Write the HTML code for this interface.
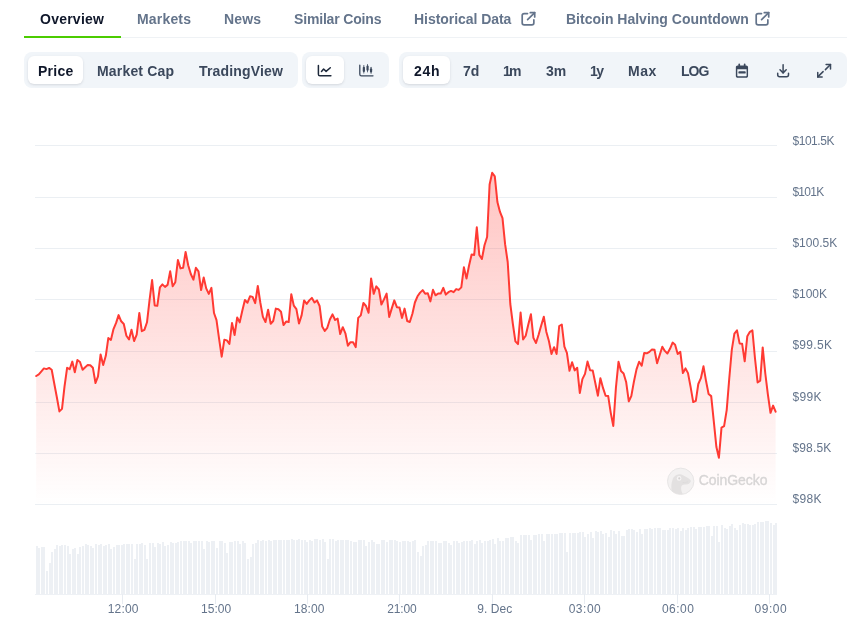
<!DOCTYPE html>
<html lang="en">
<head>
<meta charset="utf-8">
<title>Bitcoin Price Chart</title>
<style>
  html, body { margin: 0; padding: 0; background: #fff; }
  body { width: 847px; height: 632px; position: relative; overflow: hidden;
         font-family: "Liberation Sans", sans-serif; -webkit-font-smoothing: antialiased; }
  .abs { position: absolute; }
  .tab, .btn { will-change: transform; }
  svg text { will-change: transform; }

  /* ---------- nav tabs ---------- */
  .navline { left: 24px; top: 37px; width: 823px; height: 1px; background: #eff2f5; }
  .navgreen { left: 24px; top: 36px; width: 97px; height: 2px; background: #4bcc00; }
  .tab { top: 10px; height: 18px; line-height: 18px; font-size: 14px; font-weight: 700;
         color: #64748b; white-space: nowrap; }
  .tab.on { color: #0f172a; }

  /* ---------- toolbar ---------- */
  .pill { top: 52px; height: 36px; background: #f1f5f9; border-radius: 8px; }
  .sel  { top: 56px; height: 28px; background: #fff; border-radius: 6px;
          box-shadow: 0 1px 3px 0 rgba(15,23,42,0.10), 0 1px 2px -1px rgba(15,23,42,0.10); }
  .btn { top: 62px; height: 18px; line-height: 18px; font-size: 14px; font-weight: 700;
         color: #3b485c; white-space: nowrap; }
  .btn.on { color: #0f172a; }
  svg { display: block; }
  .ico { overflow: visible; }
</style>
</head>
<body>

<!-- ================= NAV ================= -->
<div class="abs navline"></div>
<div class="abs navgreen"></div>
<div class="abs tab on" id="t1" style="left:40px;letter-spacing:0.24px">Overview</div>
<div class="abs tab" id="t2" style="left:137px;letter-spacing:0.18px">Markets</div>
<div class="abs tab" id="t3" style="left:224px;letter-spacing:0.13px">News</div>
<div class="abs tab" id="t4" style="left:294px;letter-spacing:-0.17px">Similar Coins</div>
<div class="abs tab" id="t5" style="left:414px;letter-spacing:-0.05px">Historical Data</div>
<div class="abs tab" id="t6" style="left:566px;letter-spacing:0px">Bitcoin Halving Countdown</div>

<!-- external-link icons -->
<svg class="abs ico" style="left:521px;top:11px" width="16" height="16" viewBox="0 0 16 16" fill="none" stroke="#64748b" stroke-width="1.7" stroke-linecap="round" stroke-linejoin="round">
  <path d="M6.5 2.55H3.2C2.2 2.55 1.2 3.35 1.2 4.35V12.05C1.2 13.05 2.2 13.85 3.2 13.85H10.85C11.85 13.85 12.85 13.05 12.85 12.05V8.9"/>
  <path d="M6.6 8.6L13.7 1.7"/><path d="M9.3 1.7H13.7V5.9"/>
</svg>
<svg class="abs ico" style="left:755px;top:11px" width="16" height="16" viewBox="0 0 16 16" fill="none" stroke="#64748b" stroke-width="1.7" stroke-linecap="round" stroke-linejoin="round">
  <path d="M6.5 2.55H3.2C2.2 2.55 1.2 3.35 1.2 4.35V12.05C1.2 13.05 2.2 13.85 3.2 13.85H10.85C11.85 13.85 12.85 13.05 12.85 12.05V8.9"/>
  <path d="M6.6 8.6L13.7 1.7"/><path d="M9.3 1.7H13.7V5.9"/>
</svg>

<!-- ================= TOOLBAR ================= -->
<div class="abs pill" style="left:24px;width:274px"></div>
<div class="abs sel"  style="left:28px;width:55px"></div>
<div class="abs btn on" id="b1" style="left:38px;letter-spacing:0.25px">Price</div>
<div class="abs btn" id="b2" style="left:97px;letter-spacing:0.18px">Market Cap</div>
<div class="abs btn" id="b3" style="left:199px;letter-spacing:0.17px">TradingView</div>

<div class="abs pill" style="left:302px;width:87px"></div>
<div class="abs sel"  style="left:306px;width:38px"></div>
<!-- line chart icon -->
<svg class="abs ico" style="left:317px;top:63px" width="16" height="16" viewBox="0 0 16 16" fill="none" stroke="#1e293b" stroke-width="1.5" stroke-linecap="round" stroke-linejoin="round">
  <path d="M1.4 2.4V11.2C1.4 12.1 2.1 12.8 3 12.8H13.9"/>
  <path d="M4.5 8.4L6.6 6L9.1 8.4L13.3 4.7"/>
</svg>
<!-- candlestick icon -->
<svg class="abs ico" style="left:357.85px;top:63px" width="16" height="16" viewBox="0 0 16 16" fill="none" stroke="#3b485c" stroke-width="1.3" stroke-linecap="round" stroke-linejoin="round">
  <path d="M1.8 2.2V11.2C1.800 12.100 2.500 12.800 3.400 12.800H15"/>
  <g fill="#3b485c" stroke="none">
    <rect x="4.750" y="3.800" width="2.200" height="5.200" rx="1"/><rect x="5.450" y="2.100" width="0.800" height="8.500" rx="0.400"/>
    <rect x="8.450" y="2.500" width="2.200" height="5.200" rx="1"/><rect x="9.150" y="0.900" width="0.800" height="8.500" rx="0.400"/>
    <rect x="11.950" y="5.300" width="2.200" height="4.300" rx="1"/><rect x="12.650" y="3.800" width="0.800" height="7.200" rx="0.400"/>
  </g>
</svg>

<div class="abs pill" style="left:399px;width:448px"></div>
<div class="abs sel"  style="left:403px;width:47px"></div>
<div class="abs btn on" id="c1" style="left:414px;letter-spacing:0.7px">24h</div>
<div class="abs btn" id="c2" style="left:463px">7d</div>
<div class="abs btn" id="c3" style="left:503px;letter-spacing:-1.7px">1m</div>
<div class="abs btn" id="c4" style="left:546px">3m</div>
<div class="abs btn" id="c5" style="left:590px;letter-spacing:-1.5px">1y</div>
<div class="abs btn" id="c6" style="left:628px;letter-spacing:0.5px">Max</div>
<div class="abs btn" id="c7" style="left:681px;letter-spacing:-1.0px">LOG</div>

<!-- calendar icon -->
<svg class="abs ico" style="left:735px;top:63px" width="14" height="16" viewBox="0 0 14 16" fill="#3b485c">
  <path fill-rule="evenodd" d="M2.65 2.4H11.25C12.25 2.4 13.05 3.2 13.05 4.2V13C13.05 14 12.25 14.8 11.25 14.8H2.65C1.65 14.8 .85 14 .85 13V4.2C.85 3.2 1.65 2.4 2.65 2.4ZM2.3 6.2V12.8C2.300 13.100 2.500 13.300 2.800 13.300H11.100C11.400 13.300 11.600 13.100 11.600 12.800V6.200Z"/>
  <rect x="3.4" y="0.6" width="1.700" height="3.400" rx="0.800"/><rect x="8.8" y="0.6" width="1.700" height="3.400" rx="0.800"/>
  <rect x="3.4" y="8.200" width="7.300" height="2.400" rx="0.900"/>
</svg>
<!-- download icon -->
<svg class="abs ico" style="left:776px;top:63px" width="16" height="16" viewBox="0 0 16 16" fill="none" stroke="#3b485c" stroke-width="1.5" stroke-linecap="round" stroke-linejoin="round">
  <path d="M7.100 1.800V9.800"/><path d="M4 6.800L7.100 9.900L10.200 6.800"/>
  <path d="M1.700 10.200V11.800C1.700 12.900 2.600 13.800 3.700 13.800H10.500C11.600 13.800 12.500 12.900 12.500 11.800V10.200"/>
</svg>
<!-- expand icon -->
<svg class="abs ico" style="left:816px;top:63px" width="16" height="16" viewBox="0 0 16 16" fill="none" stroke="#3b485c" stroke-width="1.5" stroke-linecap="round" stroke-linejoin="round">
  <path d="M9.400 6.650L14.500 1.550"/><path d="M10.100 1.550H14.500V5.950"/>
  <path d="M7.100 8.650L1.750 13.900"/><path d="M1.750 9.500V13.900H6.150"/>
</svg>

<!-- ================= CHART ================= -->
<svg class="abs" style="left:0;top:0" width="847" height="632" viewBox="0 0 847 632">
  <defs>
    <linearGradient id="ag" gradientUnits="userSpaceOnUse" x1="0" y1="172" x2="0" y2="505">
      <stop offset="0" stop-color="#ff3a33" stop-opacity="0.30"/>
      <stop offset="1" stop-color="#ff3a33" stop-opacity="0"/>
    </linearGradient>
  </defs>
  <g stroke="#ebeff3" stroke-width="1" fill="none" shape-rendering="crispEdges"><path d="M35.1 145.5 H777"/><path d="M35.1 197.5 H777"/><path d="M35.1 248.5 H777"/><path d="M35.1 299.5 H777"/><path d="M35.1 351.5 H777"/><path d="M35.1 402.5 H777"/><path d="M35.1 453.5 H777"/><path d="M35.1 504.5 H777"/></g>
  <g fill="#edf0f4" shape-rendering="crispEdges"><rect x="36" y="546" width="2" height="48"/><rect x="38" y="548" width="2" height="46"/><rect x="41" y="547" width="2" height="47"/><rect x="43" y="547" width="2" height="47"/><rect x="46" y="571" width="2" height="23"/><rect x="49" y="563" width="2" height="31"/><rect x="51" y="552" width="2" height="42"/><rect x="54" y="549" width="2" height="45"/><rect x="56" y="545" width="2" height="49"/><rect x="59" y="546" width="2" height="48"/><rect x="61" y="545" width="2" height="49"/><rect x="64" y="545" width="2" height="49"/><rect x="67" y="546" width="2" height="48"/><rect x="69" y="554" width="2" height="40"/><rect x="72" y="549" width="2" height="45"/><rect x="74" y="548" width="2" height="46"/><rect x="77" y="554" width="2" height="40"/><rect x="79" y="547" width="2" height="47"/><rect x="82" y="546" width="2" height="48"/><rect x="85" y="544" width="2" height="50"/><rect x="87" y="545" width="2" height="49"/><rect x="90" y="546" width="2" height="48"/><rect x="92" y="548" width="2" height="46"/><rect x="95" y="544" width="2" height="50"/><rect x="98" y="545" width="2" height="49"/><rect x="100" y="544" width="2" height="50"/><rect x="103" y="546" width="2" height="48"/><rect x="105" y="545" width="2" height="49"/><rect x="108" y="544" width="2" height="50"/><rect x="110" y="549" width="2" height="45"/><rect x="113" y="547" width="2" height="47"/><rect x="116" y="545" width="2" height="49"/><rect x="118" y="545" width="2" height="49"/><rect x="121" y="545" width="2" height="49"/><rect x="123" y="544" width="2" height="50"/><rect x="126" y="544" width="2" height="50"/><rect x="128" y="544" width="2" height="50"/><rect x="131" y="544" width="2" height="50"/><rect x="134" y="559" width="2" height="35"/><rect x="136" y="544" width="2" height="50"/><rect x="139" y="544" width="2" height="50"/><rect x="141" y="543" width="2" height="51"/><rect x="144" y="545" width="2" height="49"/><rect x="146" y="559" width="2" height="35"/><rect x="149" y="543" width="2" height="51"/><rect x="152" y="543" width="2" height="51"/><rect x="154" y="547" width="2" height="47"/><rect x="157" y="543" width="2" height="51"/><rect x="159" y="544" width="2" height="50"/><rect x="162" y="542" width="2" height="52"/><rect x="164" y="546" width="2" height="48"/><rect x="167" y="545" width="2" height="49"/><rect x="170" y="542" width="2" height="52"/><rect x="172" y="543" width="2" height="51"/><rect x="175" y="543" width="2" height="51"/><rect x="177" y="542" width="2" height="52"/><rect x="180" y="541" width="2" height="53"/><rect x="183" y="541" width="2" height="53"/><rect x="185" y="541" width="2" height="53"/><rect x="188" y="541" width="2" height="53"/><rect x="190" y="543" width="2" height="51"/><rect x="193" y="541" width="2" height="53"/><rect x="195" y="541" width="2" height="53"/><rect x="198" y="541" width="2" height="53"/><rect x="201" y="541" width="2" height="53"/><rect x="203" y="549" width="2" height="45"/><rect x="206" y="541" width="2" height="53"/><rect x="208" y="542" width="2" height="52"/><rect x="211" y="541" width="2" height="53"/><rect x="213" y="541" width="2" height="53"/><rect x="216" y="548" width="2" height="46"/><rect x="219" y="541" width="2" height="53"/><rect x="221" y="541" width="2" height="53"/><rect x="224" y="543" width="2" height="51"/><rect x="226" y="553" width="2" height="41"/><rect x="229" y="542" width="2" height="52"/><rect x="231" y="542" width="2" height="52"/><rect x="234" y="541" width="2" height="53"/><rect x="237" y="541" width="2" height="53"/><rect x="239" y="544" width="2" height="50"/><rect x="242" y="541" width="2" height="53"/><rect x="244" y="543" width="2" height="51"/><rect x="247" y="559" width="2" height="35"/><rect x="250" y="557" width="2" height="37"/><rect x="252" y="544" width="2" height="50"/><rect x="255" y="543" width="2" height="51"/><rect x="257" y="540" width="2" height="54"/><rect x="260" y="541" width="2" height="53"/><rect x="262" y="540" width="2" height="54"/><rect x="265" y="541" width="2" height="53"/><rect x="268" y="540" width="2" height="54"/><rect x="270" y="541" width="2" height="53"/><rect x="273" y="540" width="2" height="54"/><rect x="275" y="540" width="2" height="54"/><rect x="278" y="540" width="2" height="54"/><rect x="280" y="540" width="2" height="54"/><rect x="283" y="540" width="2" height="54"/><rect x="286" y="540" width="2" height="54"/><rect x="288" y="540" width="2" height="54"/><rect x="291" y="539" width="2" height="55"/><rect x="293" y="540" width="2" height="54"/><rect x="296" y="540" width="2" height="54"/><rect x="298" y="539" width="2" height="55"/><rect x="301" y="540" width="2" height="54"/><rect x="304" y="540" width="2" height="54"/><rect x="306" y="542" width="2" height="52"/><rect x="309" y="540" width="2" height="54"/><rect x="311" y="541" width="2" height="53"/><rect x="314" y="539" width="2" height="55"/><rect x="316" y="539" width="2" height="55"/><rect x="319" y="540" width="2" height="54"/><rect x="322" y="539" width="2" height="55"/><rect x="324" y="542" width="2" height="52"/><rect x="327" y="559" width="2" height="35"/><rect x="329" y="539" width="2" height="55"/><rect x="332" y="539" width="2" height="55"/><rect x="335" y="541" width="2" height="53"/><rect x="337" y="540" width="2" height="54"/><rect x="340" y="540" width="2" height="54"/><rect x="342" y="540" width="2" height="54"/><rect x="345" y="540" width="2" height="54"/><rect x="347" y="540" width="2" height="54"/><rect x="350" y="541" width="2" height="53"/><rect x="353" y="542" width="2" height="52"/><rect x="355" y="542" width="2" height="52"/><rect x="358" y="540" width="2" height="54"/><rect x="360" y="540" width="2" height="54"/><rect x="363" y="540" width="2" height="54"/><rect x="365" y="546" width="2" height="48"/><rect x="368" y="542" width="2" height="52"/><rect x="371" y="540" width="2" height="54"/><rect x="373" y="542" width="2" height="52"/><rect x="376" y="544" width="2" height="50"/><rect x="378" y="544" width="2" height="50"/><rect x="381" y="540" width="2" height="54"/><rect x="383" y="540" width="2" height="54"/><rect x="386" y="542" width="2" height="52"/><rect x="389" y="540" width="2" height="54"/><rect x="391" y="540" width="2" height="54"/><rect x="394" y="540" width="2" height="54"/><rect x="396" y="541" width="2" height="53"/><rect x="399" y="542" width="2" height="52"/><rect x="402" y="541" width="2" height="53"/><rect x="404" y="541" width="2" height="53"/><rect x="407" y="541" width="2" height="53"/><rect x="409" y="542" width="2" height="52"/><rect x="412" y="541" width="2" height="53"/><rect x="414" y="540" width="2" height="54"/><rect x="417" y="552" width="2" height="42"/><rect x="420" y="556" width="2" height="38"/><rect x="422" y="546" width="2" height="48"/><rect x="425" y="545" width="2" height="49"/><rect x="427" y="541" width="2" height="53"/><rect x="430" y="541" width="2" height="53"/><rect x="432" y="541" width="2" height="53"/><rect x="435" y="541" width="2" height="53"/><rect x="438" y="543" width="2" height="51"/><rect x="440" y="543" width="2" height="51"/><rect x="443" y="541" width="2" height="53"/><rect x="445" y="541" width="2" height="53"/><rect x="448" y="543" width="2" height="51"/><rect x="450" y="545" width="2" height="49"/><rect x="453" y="541" width="2" height="53"/><rect x="456" y="541" width="2" height="53"/><rect x="458" y="543" width="2" height="51"/><rect x="461" y="542" width="2" height="52"/><rect x="463" y="541" width="2" height="53"/><rect x="466" y="541" width="2" height="53"/><rect x="469" y="541" width="2" height="53"/><rect x="471" y="540" width="2" height="54"/><rect x="474" y="544" width="2" height="50"/><rect x="476" y="541" width="2" height="53"/><rect x="479" y="540" width="2" height="54"/><rect x="481" y="543" width="2" height="51"/><rect x="484" y="541" width="2" height="53"/><rect x="487" y="541" width="2" height="53"/><rect x="489" y="540" width="2" height="54"/><rect x="492" y="539" width="2" height="55"/><rect x="494" y="544" width="2" height="50"/><rect x="497" y="538" width="2" height="56"/><rect x="499" y="541" width="2" height="53"/><rect x="502" y="541" width="2" height="53"/><rect x="505" y="538" width="2" height="56"/><rect x="507" y="538" width="2" height="56"/><rect x="510" y="537" width="2" height="57"/><rect x="512" y="537" width="2" height="57"/><rect x="515" y="541" width="2" height="53"/><rect x="517" y="543" width="2" height="51"/><rect x="520" y="535" width="2" height="59"/><rect x="523" y="535" width="2" height="59"/><rect x="525" y="535" width="2" height="59"/><rect x="528" y="535" width="2" height="59"/><rect x="530" y="540" width="2" height="54"/><rect x="533" y="535" width="2" height="59"/><rect x="535" y="535" width="2" height="59"/><rect x="538" y="534" width="2" height="60"/><rect x="541" y="534" width="2" height="60"/><rect x="543" y="541" width="2" height="53"/><rect x="546" y="534" width="2" height="60"/><rect x="548" y="534" width="2" height="60"/><rect x="551" y="534" width="2" height="60"/><rect x="554" y="534" width="2" height="60"/><rect x="556" y="534" width="2" height="60"/><rect x="559" y="533" width="2" height="61"/><rect x="561" y="533" width="2" height="61"/><rect x="564" y="533" width="2" height="61"/><rect x="566" y="552" width="2" height="42"/><rect x="569" y="533" width="2" height="61"/><rect x="572" y="533" width="2" height="61"/><rect x="574" y="533" width="2" height="61"/><rect x="577" y="533" width="2" height="61"/><rect x="579" y="532" width="2" height="62"/><rect x="582" y="532" width="2" height="62"/><rect x="584" y="537" width="2" height="57"/><rect x="587" y="534" width="2" height="60"/><rect x="590" y="532" width="2" height="62"/><rect x="592" y="538" width="2" height="56"/><rect x="595" y="531" width="2" height="63"/><rect x="597" y="532" width="2" height="62"/><rect x="600" y="531" width="2" height="63"/><rect x="602" y="534" width="2" height="60"/><rect x="605" y="533" width="2" height="61"/><rect x="608" y="537" width="2" height="57"/><rect x="610" y="530" width="2" height="64"/><rect x="613" y="531" width="2" height="63"/><rect x="615" y="534" width="2" height="60"/><rect x="618" y="531" width="2" height="63"/><rect x="621" y="536" width="2" height="58"/><rect x="623" y="536" width="2" height="58"/><rect x="626" y="530" width="2" height="64"/><rect x="628" y="529" width="2" height="65"/><rect x="631" y="529" width="2" height="65"/><rect x="633" y="530" width="2" height="64"/><rect x="636" y="532" width="2" height="62"/><rect x="639" y="529" width="2" height="65"/><rect x="641" y="534" width="2" height="60"/><rect x="644" y="529" width="2" height="65"/><rect x="646" y="529" width="2" height="65"/><rect x="649" y="528" width="2" height="66"/><rect x="651" y="529" width="2" height="65"/><rect x="654" y="528" width="2" height="66"/><rect x="657" y="528" width="2" height="66"/><rect x="659" y="528" width="2" height="66"/><rect x="662" y="530" width="2" height="64"/><rect x="664" y="530" width="2" height="64"/><rect x="667" y="530" width="2" height="64"/><rect x="669" y="528" width="2" height="66"/><rect x="672" y="528" width="2" height="66"/><rect x="675" y="529" width="2" height="65"/><rect x="677" y="528" width="2" height="66"/><rect x="680" y="531" width="2" height="63"/><rect x="682" y="528" width="2" height="66"/><rect x="685" y="530" width="2" height="64"/><rect x="687" y="528" width="2" height="66"/><rect x="690" y="527" width="2" height="67"/><rect x="693" y="527" width="2" height="67"/><rect x="695" y="529" width="2" height="65"/><rect x="698" y="527" width="2" height="67"/><rect x="700" y="527" width="2" height="67"/><rect x="703" y="527" width="2" height="67"/><rect x="706" y="526" width="2" height="68"/><rect x="708" y="526" width="2" height="68"/><rect x="711" y="536" width="2" height="58"/><rect x="713" y="526" width="2" height="68"/><rect x="716" y="526" width="2" height="68"/><rect x="718" y="542" width="2" height="52"/><rect x="721" y="525" width="2" height="69"/><rect x="724" y="528" width="2" height="66"/><rect x="726" y="529" width="2" height="65"/><rect x="729" y="526" width="2" height="68"/><rect x="731" y="524" width="2" height="70"/><rect x="734" y="528" width="2" height="66"/><rect x="736" y="530" width="2" height="64"/><rect x="739" y="525" width="2" height="69"/><rect x="742" y="523" width="2" height="71"/><rect x="744" y="524" width="2" height="70"/><rect x="747" y="524" width="2" height="70"/><rect x="749" y="525" width="2" height="69"/><rect x="752" y="525" width="2" height="69"/><rect x="754" y="524" width="2" height="70"/><rect x="757" y="522" width="2" height="72"/><rect x="760" y="522" width="2" height="72"/><rect x="762" y="522" width="2" height="72"/><rect x="765" y="521" width="2" height="73"/><rect x="767" y="521" width="2" height="73"/><rect x="770" y="523" width="2" height="71"/><rect x="773" y="525" width="2" height="69"/><rect x="775" y="523" width="2" height="71"/></g>
  <rect x="35" y="594" width="742" height="1" fill="#eef1f5" shape-rendering="crispEdges"/>
  <g fill="#e8ecf1" shape-rendering="crispEdges"><rect x="122" y="594" width="1" height="10"/><rect x="215" y="594" width="1" height="10"/><rect x="307" y="594" width="1" height="10"/><rect x="399" y="594" width="1" height="10"/><rect x="492" y="594" width="1" height="10"/><rect x="584" y="594" width="1" height="10"/><rect x="677" y="594" width="1" height="10"/><rect x="769" y="594" width="1" height="10"/></g>
  <path d="M36.2 376 L38.8 374.4 L41.4 371.3 L43.9 368.4 L46.5 369.1 L49.1 367.9 L51.7 369.8 L54.2 383.2 L56.8 397 L59.4 411.4 L62 408.9 L64.5 386.7 L67.1 367.8 L69.7 369.2 L72.3 361.6 L74.8 372.3 L77.4 360 L80 362 L82.6 369.8 L85.2 367.2 L87.7 365.1 L90.3 365.3 L92.9 367.8 L95.5 383 L98 376.4 L100.6 354.4 L103.2 365.1 L105.8 355.8 L108.3 338.1 L110.9 340 L113.5 329.1 L116.1 322.9 L118.6 315.1 L121.2 321.3 L123.8 324 L126.4 335.7 L129 339.4 L131.5 329.8 L134.1 341 L136.7 334.7 L139.3 313 L141.8 331.2 L144.4 329.9 L147 322.3 L149.6 299.7 L152.1 280.1 L154.7 305.4 L157.3 305.8 L159.9 287.3 L162.4 284.4 L165 286.9 L167.6 284.9 L170.2 271.3 L172.7 286.3 L175.3 282.2 L177.9 260 L180.5 268.4 L183.1 267.8 L185.6 251.9 L188.2 265.3 L190.8 274 L193.4 279.7 L195.9 267.8 L198.5 271.3 L201.1 290 L203.7 277.4 L206.2 288.4 L208.8 293.9 L211.4 287.9 L214 313 L216.5 320.2 L219.1 338.8 L221.7 356.7 L224.3 339.8 L226.9 340.4 L229.4 344 L232 323 L234.6 335 L237.2 317.5 L239.7 322.4 L242.3 310.7 L244.9 300 L247.5 302.7 L250 296.3 L252.6 296.9 L255.2 303.1 L257.8 286 L260.3 302.5 L262.9 316.9 L265.5 322 L268.1 309.7 L270.7 323.7 L273.2 321 L275.8 308.6 L278.4 309.3 L281 311.7 L283.5 325.1 L286.1 321.6 L288.7 322 L291.3 294.2 L293.8 305.6 L296.4 309.1 L299 323.5 L301.6 315.4 L304.1 300.4 L306.7 303.9 L309.3 300.4 L311.9 297.9 L314.5 302.5 L317 300.4 L319.6 306 L322.2 326.5 L324.8 330.9 L327.3 327.8 L329.9 319.5 L332.5 314.4 L335.1 320 L337.6 318.5 L340.2 334 L342.8 327.2 L345.4 333.3 L347.9 345.7 L350.5 342.2 L353.1 342.2 L355.7 347.1 L358.2 317.9 L360.8 315.4 L363.4 302.9 L366 306 L368.6 312.8 L371.1 278.4 L373.7 293.8 L376.3 286.4 L378.9 289.5 L381.4 304.5 L384 299.4 L386.6 293.6 L389.2 316.9 L391.7 308.6 L394.3 300.4 L396.9 307.2 L399.5 307.6 L402 317.9 L404.6 308.6 L407.2 321 L409.8 322 L412.4 313.8 L414.9 302.5 L417.5 296.3 L420.1 292.6 L422.7 290.1 L425.2 293.8 L427.8 293.2 L430.4 301.4 L433 289.8 L435.5 295.3 L438.1 293.6 L440.7 293.6 L443.3 287.8 L445.8 294.6 L448.4 292.2 L451 290.9 L453.6 292.2 L456.2 289.1 L458.7 289.9 L461.3 287.4 L463.9 267.3 L466.5 278.6 L469 265.8 L471.6 254.5 L474.2 254.9 L476.8 227.3 L479.3 254.9 L481.9 259 L484.5 245.2 L487.1 237 L489.6 184.5 L492.2 172.8 L494.8 176.3 L497.4 202 L500 211.9 L502.5 218.1 L505.1 244.2 L507.7 262 L510.3 304 L512.8 323.5 L515.4 341.4 L518 344.1 L520.6 312.6 L523.1 339.5 L525.7 335.8 L528.3 324.5 L530.9 314.2 L533.4 337.9 L536 343 L538.6 334.8 L541.2 325.6 L543.8 316.7 L546.3 331.7 L548.9 341 L551.5 354 L554.1 347.2 L556.6 354 L559.2 326 L561.8 324.5 L564.4 346.7 L566.9 352.9 L569.5 370.8 L572.1 362.2 L574.7 370.4 L577.2 367.7 L579.8 393 L582.4 379.1 L585 373.9 L587.5 361.6 L590.1 370.3 L592.7 370.4 L595.3 383 L597.9 395.7 L600.4 378.2 L603 387.9 L605.6 395.7 L608.2 396.1 L610.7 412.6 L613.3 426 L615.9 387.9 L618.5 361.8 L621 371 L623.6 373.5 L626.2 382.3 L628.8 401.3 L631.3 396.1 L633.9 381.7 L636.5 369.4 L639.1 361.8 L641.7 365.7 L644.2 352.9 L646.8 353.3 L649.4 351.9 L652 349.4 L654.5 349.8 L657.1 363.2 L659.7 355 L662.3 346.7 L664.8 350.9 L667.4 353.5 L670 348.8 L672.6 342.6 L675.1 344.7 L677.7 354 L680.3 351.9 L682.9 373.1 L685.5 368.4 L688 373.1 L690.6 386.9 L693.2 402.1 L695.8 400.8 L698.3 384 L700.9 378.2 L703.5 366.3 L706.1 381.3 L708.6 394 L711.2 396.1 L713.8 421.4 L716.4 447.1 L718.9 457.8 L721.5 427.6 L724.1 426.1 L726.7 410.1 L729.3 378 L731.8 349.8 L734.4 333.6 L737 330.4 L739.6 343.4 L742.1 343.7 L744.7 361.3 L747.3 336.2 L749.9 331.8 L752.4 330.4 L755 358.5 L757.6 382.4 L760.2 380.6 L762.7 347.4 L765.3 373.5 L767.9 394.6 L770.5 412.8 L773.1 405.6 L775.6 411.7 L775.6 504.5 L36.2 504.5 Z" fill="url(#ag)" stroke="none"/>
  <path d="M36.2 376 L38.8 374.4 L41.4 371.3 L43.9 368.4 L46.5 369.1 L49.1 367.9 L51.7 369.8 L54.2 383.2 L56.8 397 L59.4 411.4 L62 408.9 L64.5 386.7 L67.1 367.8 L69.7 369.2 L72.3 361.6 L74.8 372.3 L77.4 360 L80 362 L82.6 369.8 L85.2 367.2 L87.7 365.1 L90.3 365.3 L92.9 367.8 L95.5 383 L98 376.4 L100.6 354.4 L103.2 365.1 L105.8 355.8 L108.3 338.1 L110.9 340 L113.5 329.1 L116.1 322.9 L118.6 315.1 L121.2 321.3 L123.8 324 L126.4 335.7 L129 339.4 L131.5 329.8 L134.1 341 L136.7 334.7 L139.3 313 L141.8 331.2 L144.4 329.9 L147 322.3 L149.6 299.7 L152.1 280.1 L154.7 305.4 L157.3 305.8 L159.9 287.3 L162.4 284.4 L165 286.9 L167.6 284.9 L170.2 271.3 L172.7 286.3 L175.3 282.2 L177.9 260 L180.5 268.4 L183.1 267.8 L185.6 251.9 L188.2 265.3 L190.8 274 L193.4 279.7 L195.9 267.8 L198.5 271.3 L201.1 290 L203.7 277.4 L206.2 288.4 L208.8 293.9 L211.4 287.9 L214 313 L216.5 320.2 L219.1 338.8 L221.7 356.7 L224.3 339.8 L226.9 340.4 L229.4 344 L232 323 L234.6 335 L237.2 317.5 L239.7 322.4 L242.3 310.7 L244.9 300 L247.5 302.7 L250 296.3 L252.6 296.9 L255.2 303.1 L257.8 286 L260.3 302.5 L262.9 316.9 L265.5 322 L268.1 309.7 L270.7 323.7 L273.2 321 L275.8 308.6 L278.4 309.3 L281 311.7 L283.5 325.1 L286.1 321.6 L288.7 322 L291.3 294.2 L293.8 305.6 L296.4 309.1 L299 323.5 L301.6 315.4 L304.1 300.4 L306.7 303.9 L309.3 300.4 L311.9 297.9 L314.5 302.5 L317 300.4 L319.6 306 L322.2 326.5 L324.8 330.9 L327.3 327.8 L329.9 319.5 L332.5 314.4 L335.1 320 L337.6 318.5 L340.2 334 L342.8 327.2 L345.4 333.3 L347.9 345.7 L350.5 342.2 L353.1 342.2 L355.7 347.1 L358.2 317.9 L360.8 315.4 L363.4 302.9 L366 306 L368.6 312.8 L371.1 278.4 L373.7 293.8 L376.3 286.4 L378.9 289.5 L381.4 304.5 L384 299.4 L386.6 293.6 L389.2 316.9 L391.7 308.6 L394.3 300.4 L396.9 307.2 L399.5 307.6 L402 317.9 L404.6 308.6 L407.2 321 L409.8 322 L412.4 313.8 L414.9 302.5 L417.5 296.3 L420.1 292.6 L422.7 290.1 L425.2 293.8 L427.8 293.2 L430.4 301.4 L433 289.8 L435.5 295.3 L438.1 293.6 L440.7 293.6 L443.3 287.8 L445.8 294.6 L448.4 292.2 L451 290.9 L453.6 292.2 L456.2 289.1 L458.7 289.9 L461.3 287.4 L463.9 267.3 L466.5 278.6 L469 265.8 L471.6 254.5 L474.2 254.9 L476.8 227.3 L479.3 254.9 L481.9 259 L484.5 245.2 L487.1 237 L489.6 184.5 L492.2 172.8 L494.8 176.3 L497.4 202 L500 211.9 L502.5 218.1 L505.1 244.2 L507.7 262 L510.3 304 L512.8 323.5 L515.4 341.4 L518 344.1 L520.6 312.6 L523.1 339.5 L525.7 335.8 L528.3 324.5 L530.9 314.2 L533.4 337.9 L536 343 L538.6 334.8 L541.2 325.6 L543.8 316.7 L546.3 331.7 L548.9 341 L551.5 354 L554.1 347.2 L556.6 354 L559.2 326 L561.8 324.5 L564.4 346.7 L566.9 352.9 L569.5 370.8 L572.1 362.2 L574.7 370.4 L577.2 367.7 L579.8 393 L582.4 379.1 L585 373.9 L587.5 361.6 L590.1 370.3 L592.7 370.4 L595.3 383 L597.9 395.7 L600.4 378.2 L603 387.9 L605.6 395.7 L608.2 396.1 L610.7 412.6 L613.3 426 L615.9 387.9 L618.5 361.8 L621 371 L623.6 373.5 L626.2 382.3 L628.8 401.3 L631.3 396.1 L633.9 381.7 L636.5 369.4 L639.1 361.8 L641.7 365.7 L644.2 352.9 L646.8 353.3 L649.4 351.9 L652 349.4 L654.5 349.8 L657.1 363.2 L659.7 355 L662.3 346.7 L664.8 350.9 L667.4 353.5 L670 348.8 L672.6 342.6 L675.1 344.7 L677.7 354 L680.3 351.9 L682.9 373.1 L685.5 368.4 L688 373.1 L690.6 386.9 L693.2 402.1 L695.8 400.8 L698.3 384 L700.9 378.2 L703.5 366.3 L706.1 381.3 L708.6 394 L711.2 396.1 L713.8 421.4 L716.4 447.1 L718.9 457.8 L721.5 427.6 L724.1 426.1 L726.7 410.1 L729.3 378 L731.8 349.8 L734.4 333.6 L737 330.4 L739.6 343.4 L742.1 343.7 L744.7 361.3 L747.3 336.2 L749.9 331.8 L752.4 330.4 L755 358.5 L757.6 382.4 L760.2 380.6 L762.7 347.4 L765.3 373.5 L767.9 394.6 L770.5 412.8 L773.1 405.6 L775.6 411.7" fill="none" stroke="#ff3a33" stroke-width="2" stroke-linejoin="round" stroke-linecap="round"/>
  <g font-family="'Liberation Sans', sans-serif" font-size="12" fill="#64748b"><text x="792.4" y="145" letter-spacing="-0.43">$101.5K</text><text x="792.4" y="195.9" letter-spacing="-0.7">$101K</text><text x="792.4" y="246.9" letter-spacing="0.03">$100.5K</text><text x="792.4" y="297.6" letter-spacing="-0.05">$100K</text><text x="792.4" y="349.4" letter-spacing="0.3">$99.5K</text><text x="792.4" y="400.8" letter-spacing="0.37">$99K</text><text x="792.4" y="451.9" letter-spacing="0.18">$98.5K</text><text x="792.4" y="503.1" letter-spacing="0.33">$98K</text></g>
  <g font-family="'Liberation Sans', sans-serif" font-size="12" fill="#64748b"><text x="123.2" y="612.6" text-anchor="middle" letter-spacing="0.17">12:00</text><text x="216.1" y="612.6" text-anchor="middle" letter-spacing="0.08">15:00</text><text x="309.3" y="612.6" text-anchor="middle" letter-spacing="0.08">18:00</text><text x="401.9" y="612.6" text-anchor="middle" letter-spacing="-0.17">21:00</text><text x="494.7" y="612.6" text-anchor="middle" letter-spacing="0.06">9. Dec</text><text x="585" y="612.6" text-anchor="middle" letter-spacing="0.52">03:00</text><text x="678.2" y="612.6" text-anchor="middle" letter-spacing="0.52">06:00</text><text x="770.9" y="612.6" text-anchor="middle" letter-spacing="0.52">09:00</text></g>

  <!-- CoinGecko watermark -->
  <g>
    <clipPath id="gc"><circle cx="680.7" cy="481.3" r="13"/></clipPath>
    <circle cx="680.7" cy="481.3" r="13.2" fill="#f3f1f1" stroke="#e7e5e5" stroke-width="1"/>
    <g clip-path="url(#gc)">
      <path d="M673.5 477.6C674.6 475.6 676.4 474.6 678.4 474.4C680.2 474.2 682 474.7 683.4 475.5C686 476.9 688.6 478.2 690.2 479.7C690.9 480.4 691 481.2 690.5 481.9C689.8 483 688.8 483.9 687.6 484.3C686.2 484.8 684.7 484.4 683.4 484.8C682.2 485.2 681.4 485.9 681.2 486.9C680.8 489.2 681.6 491.8 683 494.5L672.4 494.5C671.6 491.6 671.2 488.8 671.3 486.1C671.4 483.8 671.8 481.6 672.5 479.7C672.8 478.9 673.1 478.2 673.5 477.6Z" fill="#e3e1e1"/>
      <circle cx="679.1" cy="478.4" r="2.3" fill="#f6f4f4"/><circle cx="679.3" cy="478.4" r="1.1" fill="#d4d2d2"/>
      <path d="M682.6 482.6C684.4 483 686.3 482.6 688 481.6" fill="none" stroke="#d8d6d6" stroke-width="0.5"/>
    </g>
    <text id="wm" letter-spacing="-0.08" x="698.8" y="485.2" font-family="'Liberation Sans', sans-serif" font-size="14" fill="#d7d5d5" stroke="#d7d5d5" stroke-width="0.35">CoinGecko</text>
  </g>
</svg>

</body>
</html>
